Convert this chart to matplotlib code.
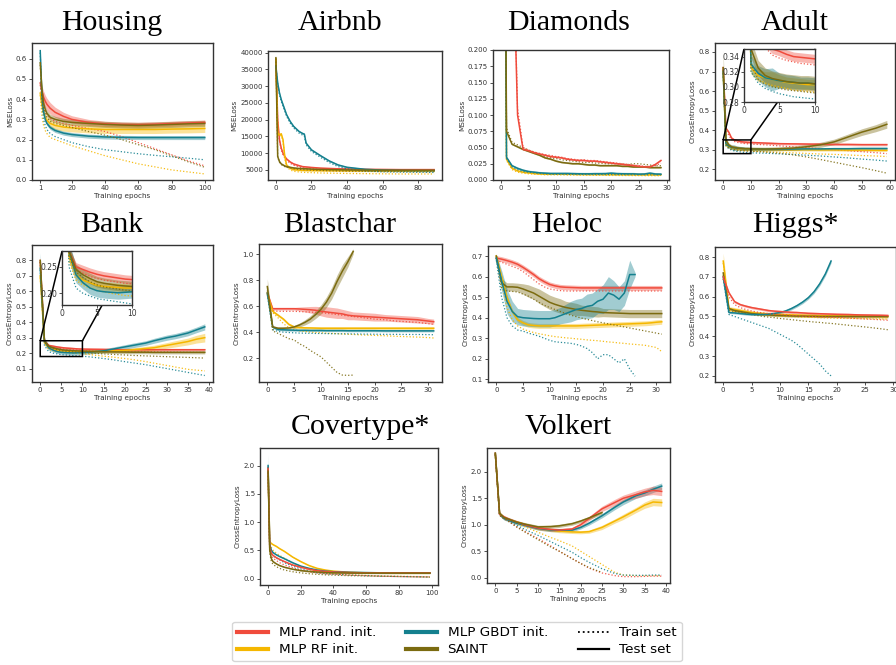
import numpy as np
import matplotlib
matplotlib.use("Agg")
import matplotlib.pyplot as plt
from matplotlib.lines import Line2D

RED, YEL, TEAL, OLIVE = "#F04B3C", "#F5B700", "#14808E", "#7B6B10"
W, H = 896, 665

# ---------------- data ----------------
housing_x = [1, 2, 3, 4, 5, 7, 10, 15, 20, 30, 40, 50, 60, 70, 80, 90, 100]
housing_red = [0.48, 0.44, 0.41, 0.39, 0.375, 0.355, 0.335, 0.315, 0.30, 0.285, 0.278, 0.275, 0.274, 0.276, 0.279, 0.282, 0.285]
housing_red_sd = [0.02, 0.025, 0.03, 0.03, 0.03, 0.028, 0.025, 0.02, 0.018, 0.015, 0.013, 0.012, 0.012, 0.012, 0.012, 0.012, 0.012]
housing_red_tr = [0.47, 0.40, 0.36, 0.34, 0.325, 0.305, 0.29, 0.28, 0.27, 0.255, 0.24, 0.215, 0.185, 0.155, 0.125, 0.095, 0.07]
housing_yel = [0.43, 0.37, 0.33, 0.31, 0.295, 0.28, 0.27, 0.262, 0.258, 0.253, 0.25, 0.25, 0.25, 0.25, 0.252, 0.253, 0.255]
housing_yel_sd = 0.02
housing_yel_tr = [0.42, 0.32, 0.27, 0.245, 0.23, 0.21, 0.20, 0.185, 0.17, 0.145, 0.12, 0.10, 0.08, 0.065, 0.05, 0.04, 0.03]
housing_teal = [0.64, 0.42, 0.34, 0.30, 0.28, 0.26, 0.245, 0.232, 0.225, 0.217, 0.213, 0.211, 0.21, 0.21, 0.21, 0.21, 0.21]
housing_teal_sd = 0.01
housing_teal_tr = [0.63, 0.38, 0.30, 0.27, 0.25, 0.23, 0.215, 0.20, 0.185, 0.165, 0.15, 0.14, 0.13, 0.122, 0.115, 0.108, 0.10]
housing_olive = [0.58, 0.45, 0.38, 0.35, 0.33, 0.31, 0.30, 0.29, 0.285, 0.28, 0.275, 0.272, 0.27, 0.272, 0.275, 0.278, 0.28]
housing_olive_sd = 0.015
housing_olive_tr = [0.57, 0.42, 0.36, 0.33, 0.31, 0.29, 0.28, 0.27, 0.26, 0.24, 0.222, 0.2, 0.175, 0.15, 0.12, 0.09, 0.063]

airbnb_x = [0, 1, 2, 3, 4, 5, 6, 8, 10, 13, 15, 16, 17, 20, 25, 30, 35, 40, 50, 60, 70, 80, 89]
airbnb_red = [38000, 20000, 14000, 11500, 10000, 9000, 8300, 7400, 6800, 6300, 6000, 5950, 5900, 5750, 5550, 5450, 5350, 5300, 5200, 5150, 5100, 5100, 5100]
airbnb_red_tr = [37800, 19500, 13500, 11000, 9500, 8600, 7900, 7000, 6400, 5900, 5600, 5550, 5500, 5350, 5150, 5050, 4950, 4900, 4850, 4800, 4800, 4800, 4800]
airbnb_yel = [38000, 16000, 15500, 15800, 14000, 9000, 6500, 5500, 5100, 4950, 4900, 4880, 4870, 4850, 4820, 4800, 4780, 4760, 4740, 4720, 4710, 4700, 4700]
airbnb_yel_tr = [37800, 15500, 15000, 15300, 13500, 8500, 6000, 5000, 4600, 4400, 4300, 4280, 4250, 4200, 4100, 4050, 4000, 3950, 3900, 3850, 3800, 3800, 3800]
airbnb_teal = [36000, 31000, 28000, 26000, 24500, 23000, 21500, 19500, 18000, 16500, 15900, 15700, 13000, 11000, 9300, 7700, 6500, 5800, 5200, 4950, 4850, 4800, 4800]
airbnb_teal_tr = [35800, 30500, 27500, 25500, 24000, 22500, 21000, 19000, 17500, 16000, 15400, 15200, 12500, 10500, 8800, 7200, 6000, 5300, 4700, 4450, 4350, 4300, 4250]
airbnb_olive = [38500, 9000, 7500, 6800, 6500, 6200, 6000, 5800, 5600, 5450, 5400, 5380, 5350, 5250, 5150, 5100, 5050, 5000, 4950, 4920, 4900, 4900, 4900]
airbnb_olive_tr = [38300, 8800, 7300, 6600, 6300, 6000, 5800, 5600, 5400, 5200, 5100, 5080, 5050, 4950, 4850, 4750, 4700, 4650, 4600, 4550, 4550, 4500, 4500]
airbnb_sd = 250

diamonds_x = list(range(30))
diamonds_red = [2.0, 1.5, 0.43, 0.1, 0.047, 0.045, 0.042, 0.04, 0.038, 0.036, 0.035, 0.034, 0.032, 0.031, 0.03, 0.03, 0.029, 0.029, 0.028, 0.027, 0.026, 0.025, 0.024, 0.023, 0.022, 0.021, 0.02, 0.02, 0.024, 0.03]
diamonds_red_tr = [2.0, 1.5, 0.45, 0.11, 0.05, 0.046, 0.043, 0.041, 0.039, 0.038, 0.036, 0.035, 0.033, 0.032, 0.031, 0.031, 0.03, 0.03, 0.029, 0.028, 0.027, 0.026, 0.025, 0.024, 0.023, 0.022, 0.021, 0.021, 0.022, 0.026]
diamonds_yel = [1.5, 0.032, 0.018, 0.014, 0.012, 0.011, 0.010, 0.0095, 0.009, 0.009, 0.009, 0.009, 0.0088, 0.0088, 0.0086, 0.0086, 0.0085, 0.0085, 0.0085, 0.0084, 0.0084, 0.0083, 0.0083, 0.0082, 0.0082, 0.0082, 0.0081, 0.0081, 0.008, 0.008]
diamonds_yel_tr = [1.5, 0.03, 0.016, 0.012, 0.0105, 0.0095, 0.009, 0.0085, 0.008, 0.008, 0.008, 0.0078, 0.0077, 0.0076, 0.0075, 0.0074, 0.0073, 0.0072, 0.0072, 0.0071, 0.007, 0.007, 0.0069, 0.0069, 0.0068, 0.0068, 0.0067, 0.0067, 0.0066, 0.0066]
diamonds_teal = [1.5, 0.035, 0.022, 0.018, 0.015, 0.013, 0.012, 0.011, 0.0105, 0.010, 0.010, 0.010, 0.010, 0.0098, 0.0096, 0.0095, 0.0095, 0.0097, 0.0097, 0.0098, 0.0105, 0.0098, 0.0096, 0.0095, 0.0095, 0.009, 0.0092, 0.0105, 0.0092, 0.009]
diamonds_teal_tr = [1.5, 0.033, 0.02, 0.016, 0.013, 0.012, 0.011, 0.010, 0.0095, 0.009, 0.009, 0.009, 0.0088, 0.0087, 0.0086, 0.0085, 0.0085, 0.0084, 0.0084, 0.0083, 0.0083, 0.0082, 0.0082, 0.0081, 0.0081, 0.008, 0.008, 0.008, 0.0079, 0.0079]
diamonds_olive = [1.5, 0.075, 0.055, 0.051, 0.047, 0.044, 0.041, 0.038, 0.034, 0.032, 0.029, 0.027, 0.026, 0.025, 0.025, 0.024, 0.023, 0.023, 0.022, 0.022, 0.022, 0.022, 0.021, 0.021, 0.02, 0.02, 0.02, 0.019, 0.019, 0.019]
diamonds_olive_tr = [1.5, 0.08, 0.058, 0.054, 0.05, 0.046, 0.043, 0.04, 0.036, 0.034, 0.033, 0.031, 0.03, 0.029, 0.028, 0.027, 0.027, 0.026, 0.026, 0.025, 0.025, 0.025, 0.024, 0.024, 0.025, 0.025, 0.024, 0.023, 0.022, 0.022]
diamonds_sd = 0.0015

adult_x = [0, 1, 2, 3, 4, 5, 6, 7, 8, 9, 10, 15, 20, 25, 30, 35, 40, 45, 50, 55, 59]
adult_red = [0.72, 0.41, 0.39, 0.36, 0.35, 0.347, 0.343, 0.34, 0.339, 0.338, 0.337, 0.334, 0.331, 0.33, 0.329, 0.328, 0.327, 0.327, 0.326, 0.326, 0.326]
adult_red_sd = 0.006
adult_red_tr = [0.71, 0.40, 0.375, 0.352, 0.342, 0.338, 0.335, 0.333, 0.331, 0.33, 0.329, 0.325, 0.32, 0.315, 0.31, 0.305, 0.3, 0.295, 0.29, 0.285, 0.28]
adult_yel = [0.70, 0.325, 0.315, 0.312, 0.31, 0.308, 0.306, 0.305, 0.304, 0.303, 0.303, 0.302, 0.301, 0.3, 0.3, 0.299, 0.299, 0.298, 0.298, 0.297, 0.297]
adult_yel_sd = [0.02, 0.008, 0.008, 0.008, 0.01, 0.008, 0.007, 0.007, 0.007, 0.007, 0.007, 0.006, 0.006, 0.006, 0.006, 0.006, 0.006, 0.006, 0.006, 0.006, 0.006]
adult_yel_tr = [0.69, 0.32, 0.31, 0.305, 0.302, 0.3, 0.298, 0.296, 0.295, 0.294, 0.293, 0.29, 0.287, 0.284, 0.281, 0.278, 0.276, 0.273, 0.27, 0.268, 0.265]
adult_teal = [0.70, 0.33, 0.318, 0.312, 0.31, 0.308, 0.307, 0.306, 0.305, 0.305, 0.304, 0.303, 0.303, 0.303, 0.304, 0.304, 0.305, 0.305, 0.306, 0.306, 0.306]
adult_teal_sd = [0.02, 0.012, 0.01, 0.012, 0.015, 0.01, 0.009, 0.009, 0.008, 0.008, 0.008, 0.007, 0.007, 0.007, 0.007, 0.007, 0.007, 0.007, 0.007, 0.007, 0.007]
adult_teal_tr = [0.69, 0.32, 0.305, 0.298, 0.294, 0.291, 0.289, 0.287, 0.286, 0.285, 0.284, 0.282, 0.279, 0.276, 0.272, 0.268, 0.263, 0.258, 0.252, 0.247, 0.242]
adult_olive = [0.72, 0.35, 0.325, 0.315, 0.311, 0.309, 0.307, 0.306, 0.305, 0.305, 0.304, 0.303, 0.305, 0.308, 0.315, 0.325, 0.34, 0.365, 0.39, 0.41, 0.43]
adult_olive_sd = [0.09, 0.012, 0.01, 0.01, 0.01, 0.01, 0.01, 0.01, 0.01, 0.01, 0.01, 0.01, 0.01, 0.011, 0.012, 0.013, 0.014, 0.015, 0.017, 0.018, 0.02]
adult_olive_tr = [0.71, 0.33, 0.31, 0.303, 0.3, 0.298, 0.296, 0.295, 0.294, 0.293, 0.292, 0.288, 0.282, 0.274, 0.263, 0.25, 0.236, 0.222, 0.208, 0.193, 0.18]

bank_x = [0, 1, 2, 3, 4, 5, 6, 7, 8, 9, 10, 12, 15, 17, 20, 22, 25, 27, 30, 32, 35, 37, 39]
bank_red = [0.80, 0.28, 0.25, 0.245, 0.24, 0.236, 0.233, 0.231, 0.229, 0.227, 0.226, 0.225, 0.224, 0.223, 0.222, 0.222, 0.222, 0.222, 0.222, 0.222, 0.222, 0.222, 0.222]
bank_red_sd = 0.008
bank_red_tr = [0.79, 0.27, 0.245, 0.238, 0.232, 0.228, 0.225, 0.223, 0.221, 0.219, 0.218, 0.216, 0.214, 0.213, 0.212, 0.211, 0.21, 0.209, 0.208, 0.207, 0.206, 0.205, 0.204]
bank_yel = [0.70, 0.27, 0.235, 0.225, 0.22, 0.215, 0.213, 0.212, 0.211, 0.21, 0.21, 0.21, 0.212, 0.214, 0.218, 0.222, 0.23, 0.235, 0.25, 0.26, 0.275, 0.29, 0.30]
bank_yel_sd = [0.02, 0.01, 0.008, 0.008, 0.008, 0.008, 0.008, 0.008, 0.008, 0.008, 0.008, 0.008, 0.009, 0.01, 0.011, 0.012, 0.014, 0.016, 0.018, 0.02, 0.022, 0.025, 0.028]
bank_yel_tr = [0.69, 0.26, 0.225, 0.215, 0.21, 0.205, 0.203, 0.2, 0.198, 0.196, 0.195, 0.19, 0.18, 0.175, 0.165, 0.158, 0.145, 0.135, 0.12, 0.11, 0.095, 0.09, 0.085]
bank_teal = [0.75, 0.28, 0.235, 0.22, 0.21, 0.205, 0.203, 0.202, 0.201, 0.202, 0.203, 0.207, 0.215, 0.225, 0.24, 0.25, 0.265, 0.28, 0.30, 0.31, 0.33, 0.35, 0.37]
bank_teal_sd = [0.10, 0.02, 0.015, 0.012, 0.012, 0.012, 0.012, 0.012, 0.012, 0.012, 0.012, 0.012, 0.012, 0.013, 0.014, 0.015, 0.015, 0.016, 0.017, 0.017, 0.018, 0.018, 0.02]
bank_teal_tr = [0.74, 0.25, 0.21, 0.2, 0.195, 0.19, 0.188, 0.186, 0.184, 0.182, 0.18, 0.175, 0.165, 0.158, 0.145, 0.137, 0.125, 0.115, 0.1, 0.09, 0.075, 0.065, 0.055]
bank_olive = [0.80, 0.28, 0.245, 0.235, 0.228, 0.222, 0.219, 0.217, 0.215, 0.214, 0.213, 0.211, 0.209, 0.208, 0.207, 0.206, 0.206, 0.205, 0.205, 0.205, 0.205, 0.205, 0.205]
bank_olive_sd = 0.01
bank_olive_tr = [0.79, 0.27, 0.24, 0.23, 0.222, 0.216, 0.212, 0.21, 0.208, 0.206, 0.205, 0.2, 0.195, 0.192, 0.188, 0.185, 0.182, 0.18, 0.177, 0.175, 0.172, 0.17, 0.168]

blast_x = [0, 1, 2, 3, 4, 5, 6, 7, 8, 9, 10, 11, 12, 13, 14, 15, 16, 18, 20, 22, 24, 26, 28, 30, 31]
blast_red = [0.70, 0.58, 0.58, 0.58, 0.58, 0.58, 0.578, 0.575, 0.572, 0.568, 0.56, 0.555, 0.55, 0.545, 0.54, 0.53, 0.525, 0.52, 0.515, 0.51, 0.505, 0.50, 0.495, 0.485, 0.48]
blast_red_sd = [0.02, 0.01, 0.01, 0.01, 0.01, 0.01, 0.015, 0.02, 0.025, 0.03, 0.035, 0.04, 0.04, 0.04, 0.035, 0.035, 0.03, 0.03, 0.03, 0.025, 0.025, 0.025, 0.025, 0.02, 0.02]
blast_red_tr = [0.68, 0.565, 0.56, 0.56, 0.56, 0.56, 0.558, 0.556, 0.554, 0.552, 0.55, 0.545, 0.54, 0.535, 0.53, 0.525, 0.52, 0.51, 0.50, 0.495, 0.485, 0.48, 0.475, 0.465, 0.46]
blast_yel = [0.70, 0.56, 0.53, 0.50, 0.46, 0.44, 0.435, 0.433, 0.432, 0.431, 0.43, 0.43, 0.43, 0.43, 0.43, 0.43, 0.43, 0.43, 0.43, 0.43, 0.43, 0.43, 0.43, 0.43, 0.43]
blast_yel_sd = 0.01
blast_yel_tr = [0.69, 0.55, 0.51, 0.465, 0.435, 0.42, 0.41, 0.405, 0.40, 0.397, 0.395, 0.392, 0.39, 0.388, 0.386, 0.384, 0.382, 0.378, 0.375, 0.372, 0.368, 0.365, 0.362, 0.358, 0.355]
blast_teal = [0.70, 0.44, 0.42, 0.418, 0.416, 0.415, 0.414, 0.414, 0.413, 0.413, 0.413, 0.412, 0.412, 0.412, 0.412, 0.411, 0.411, 0.411, 0.411, 0.41, 0.41, 0.41, 0.41, 0.41, 0.41]
blast_teal_sd = 0.008
blast_teal_tr = [0.69, 0.42, 0.405, 0.40, 0.397, 0.395, 0.393, 0.392, 0.391, 0.39, 0.39, 0.389, 0.388, 0.388, 0.387, 0.387, 0.386, 0.385, 0.384, 0.383, 0.383, 0.382, 0.382, 0.381, 0.38]
blast_olive = [0.75, 0.44, 0.43, 0.43, 0.432, 0.44, 0.455, 0.475, 0.50, 0.535, 0.575, 0.63, 0.70, 0.79, 0.87, 0.94, 1.02]
blast_olive_sd = [0.06, 0.01, 0.01, 0.01, 0.01, 0.012, 0.015, 0.02, 0.025, 0.03, 0.035, 0.04, 0.045, 0.05, 0.05, 0.04, 0.02]
blast_olive_tr = [0.72, 0.41, 0.39, 0.37, 0.35, 0.34, 0.31, 0.29, 0.26, 0.235, 0.21, 0.17, 0.13, 0.09, 0.07, 0.068, 0.07]

heloc_x = list(range(32))
heloc_red = [0.69, 0.685, 0.678, 0.67, 0.66, 0.645, 0.628, 0.61, 0.59, 0.575, 0.562, 0.555, 0.55, 0.548, 0.547, 0.546, 0.545, 0.545, 0.545, 0.545, 0.545, 0.545, 0.545, 0.545, 0.545, 0.545, 0.545, 0.545, 0.545, 0.545, 0.545, 0.545]
heloc_red_sd = 0.012
heloc_red_tr = [0.68, 0.67, 0.66, 0.65, 0.64, 0.625, 0.605, 0.585, 0.565, 0.55, 0.54, 0.535, 0.532, 0.53, 0.53, 0.53, 0.53, 0.53, 0.53, 0.53, 0.53, 0.53, 0.53, 0.53, 0.53, 0.53, 0.53, 0.53, 0.53, 0.53, 0.53, 0.53]
heloc_yel = [0.70, 0.60, 0.50, 0.43, 0.39, 0.375, 0.365, 0.362, 0.36, 0.36, 0.36, 0.36, 0.36, 0.36, 0.36, 0.36, 0.361, 0.362, 0.363, 0.364, 0.365, 0.366, 0.367, 0.368, 0.369, 0.37, 0.371, 0.372, 0.373, 0.375, 0.378, 0.38]
heloc_yel_sd = 0.012
heloc_yel_tr = [0.69, 0.57, 0.45, 0.39, 0.36, 0.345, 0.335, 0.328, 0.322, 0.317, 0.312, 0.308, 0.305, 0.302, 0.30, 0.297, 0.295, 0.292, 0.29, 0.288, 0.285, 0.282, 0.28, 0.277, 0.275, 0.272, 0.27, 0.268, 0.265, 0.26, 0.255, 0.235]
heloc_teal = [0.69, 0.58, 0.48, 0.43, 0.405, 0.40, 0.398, 0.396, 0.395, 0.395, 0.395, 0.40, 0.41, 0.42, 0.43, 0.44, 0.445, 0.455, 0.46, 0.48, 0.49, 0.52, 0.51, 0.49, 0.52, 0.61, 0.61]
heloc_teal_sd = [0.02, 0.05, 0.06, 0.05, 0.04, 0.04, 0.04, 0.04, 0.04, 0.04, 0.04, 0.04, 0.04, 0.045, 0.05, 0.05, 0.05, 0.06, 0.06, 0.06, 0.07, 0.08, 0.07, 0.06, 0.06, 0.07, 0.01]
heloc_teal_tr = [0.68, 0.50, 0.40, 0.36, 0.34, 0.335, 0.325, 0.318, 0.31, 0.30, 0.29, 0.283, 0.28, 0.278, 0.275, 0.27, 0.262, 0.25, 0.23, 0.20, 0.22, 0.22, 0.20, 0.18, 0.20, 0.15, 0.115]
heloc_olive = [0.70, 0.57, 0.55, 0.55, 0.548, 0.54, 0.53, 0.52, 0.505, 0.49, 0.475, 0.465, 0.457, 0.45, 0.445, 0.44, 0.436, 0.433, 0.43, 0.428, 0.425, 0.424, 0.423, 0.422, 0.421, 0.42, 0.42, 0.42, 0.42, 0.42, 0.42, 0.42]
heloc_olive_sd = [0.01, 0.02, 0.02, 0.02, 0.02, 0.025, 0.03, 0.03, 0.035, 0.035, 0.035, 0.035, 0.035, 0.03, 0.03, 0.03, 0.025, 0.025, 0.025, 0.025, 0.02, 0.02, 0.02, 0.02, 0.02, 0.02, 0.02, 0.02, 0.02, 0.02, 0.02, 0.02]
heloc_olive_tr = [0.69, 0.54, 0.53, 0.528, 0.525, 0.515, 0.505, 0.49, 0.475, 0.46, 0.45, 0.44, 0.43, 0.42, 0.412, 0.405, 0.398, 0.392, 0.386, 0.38, 0.375, 0.37, 0.365, 0.36, 0.355, 0.35, 0.345, 0.34, 0.335, 0.33, 0.325, 0.32]

higgs_x = [0, 1, 2, 3, 4, 5, 6, 7, 8, 9, 10, 11, 12, 13, 14, 15, 16, 17, 18, 19, 20, 22, 24, 26, 28, 29]
higgs_red = [0.70, 0.62, 0.575, 0.56, 0.552, 0.545, 0.54, 0.535, 0.53, 0.527, 0.525, 0.523, 0.521, 0.52, 0.518, 0.516, 0.515, 0.514, 0.513, 0.512, 0.511, 0.51, 0.508, 0.507, 0.506, 0.505]
higgs_red_sd = 0.006
higgs_red_tr = [0.69, 0.60, 0.56, 0.545, 0.535, 0.528, 0.522, 0.518, 0.515, 0.512, 0.51, 0.508, 0.506, 0.504, 0.502, 0.50, 0.499, 0.498, 0.497, 0.496, 0.495, 0.492, 0.489, 0.486, 0.483, 0.481]
higgs_yel = [0.78, 0.54, 0.535, 0.53, 0.525, 0.52, 0.517, 0.515, 0.513, 0.511, 0.51, 0.509, 0.508, 0.507, 0.506, 0.505, 0.505, 0.504, 0.504, 0.503, 0.503, 0.502, 0.502, 0.501, 0.50, 0.50]
higgs_yel_sd = [0.04, 0.01, 0.01, 0.01, 0.01, 0.009, 0.009, 0.008, 0.008, 0.008, 0.008, 0.008, 0.008, 0.008, 0.008, 0.008, 0.008, 0.008, 0.008, 0.008, 0.008, 0.008, 0.008, 0.008, 0.008, 0.008]
higgs_yel_tr = [0.77, 0.53, 0.525, 0.52, 0.515, 0.512, 0.51, 0.508, 0.506, 0.504, 0.502, 0.50, 0.499, 0.498, 0.497, 0.496, 0.495, 0.494, 0.493, 0.492, 0.491, 0.49, 0.489, 0.488, 0.487, 0.486]
higgs_teal = [0.70, 0.52, 0.518, 0.515, 0.512, 0.51, 0.51, 0.51, 0.512, 0.515, 0.52, 0.528, 0.54, 0.555, 0.573, 0.595, 0.625, 0.665, 0.715, 0.78]
higgs_teal_sd = [0.01, 0.005, 0.005, 0.005, 0.005, 0.005, 0.005, 0.005, 0.005, 0.005, 0.006, 0.006, 0.007, 0.007, 0.008, 0.008, 0.009, 0.01, 0.01, 0.01]
higgs_teal_tr = [0.69, 0.51, 0.50, 0.49, 0.48, 0.47, 0.46, 0.45, 0.44, 0.425, 0.41, 0.395, 0.38, 0.36, 0.335, 0.31, 0.285, 0.26, 0.225, 0.20]
higgs_olive = [0.72, 0.54, 0.53, 0.525, 0.52, 0.515, 0.512, 0.51, 0.508, 0.506, 0.505, 0.504, 0.503, 0.502, 0.502, 0.501, 0.501, 0.50, 0.50, 0.50, 0.50, 0.50, 0.50, 0.50, 0.50, 0.50]
higgs_olive_sd = 0.006
higgs_olive_tr = [0.71, 0.53, 0.525, 0.52, 0.515, 0.51, 0.505, 0.50, 0.497, 0.494, 0.49, 0.487, 0.484, 0.481, 0.478, 0.475, 0.472, 0.47, 0.467, 0.465, 0.462, 0.456, 0.45, 0.444, 0.437, 0.433]

cover_x = [0, 1, 2, 3, 5, 7, 10, 15, 20, 25, 30, 35, 40, 50, 60, 70, 80, 90, 99]
cover_red = [1.95, 0.55, 0.45, 0.41, 0.37, 0.34, 0.30, 0.24, 0.20, 0.165, 0.14, 0.125, 0.115, 0.105, 0.10, 0.10, 0.10, 0.10, 0.10]
cover_red_tr = [1.93, 0.50, 0.40, 0.36, 0.32, 0.28, 0.24, 0.19, 0.15, 0.12, 0.10, 0.085, 0.075, 0.06, 0.05, 0.04, 0.035, 0.03, 0.028]
cover_yel = [1.95, 0.65, 0.62, 0.60, 0.57, 0.53, 0.48, 0.38, 0.30, 0.23, 0.18, 0.15, 0.13, 0.11, 0.10, 0.097, 0.095, 0.095, 0.095]
cover_yel_tr = [1.93, 0.60, 0.55, 0.50, 0.45, 0.41, 0.36, 0.28, 0.21, 0.16, 0.12, 0.10, 0.085, 0.065, 0.055, 0.045, 0.04, 0.035, 0.03]
cover_teal = [2.0, 0.60, 0.50, 0.46, 0.42, 0.39, 0.35, 0.28, 0.22, 0.18, 0.15, 0.13, 0.12, 0.11, 0.105, 0.10, 0.10, 0.10, 0.10]
cover_teal_sd = [0.2, 0.02, 0.015, 0.012, 0.01, 0.01, 0.01, 0.01, 0.01, 0.01, 0.01, 0.01, 0.01, 0.01, 0.01, 0.01, 0.01, 0.01, 0.01]
cover_teal_tr = [1.98, 0.55, 0.45, 0.40, 0.36, 0.33, 0.28, 0.22, 0.17, 0.13, 0.10, 0.085, 0.075, 0.06, 0.05, 0.04, 0.035, 0.03, 0.025]
cover_olive = [1.90, 0.50, 0.35, 0.30, 0.26, 0.23, 0.20, 0.165, 0.14, 0.125, 0.115, 0.105, 0.10, 0.097, 0.095, 0.095, 0.095, 0.095, 0.095]
cover_olive_tr = [1.88, 0.45, 0.30, 0.25, 0.21, 0.18, 0.15, 0.12, 0.10, 0.085, 0.075, 0.065, 0.06, 0.05, 0.045, 0.04, 0.035, 0.03, 0.025]
cover_sd = 0.01

volk_x = [0, 1, 2, 3, 5, 7, 10, 13, 15, 18, 20, 22, 25, 28, 30, 33, 35, 37, 39]
volk_red = [2.35, 1.20, 1.15, 1.11, 1.05, 1.0, 0.94, 0.91, 0.90, 0.92, 1.0, 1.12, 1.30, 1.42, 1.50, 1.57, 1.62, 1.65, 1.63]
volk_red_sd = [0.02, 0.03, 0.03, 0.03, 0.03, 0.03, 0.03, 0.03, 0.03, 0.03, 0.04, 0.04, 0.05, 0.06, 0.06, 0.07, 0.07, 0.08, 0.08]
volk_red_tr = [2.33, 1.18, 1.12, 1.07, 0.96, 0.87, 0.74, 0.60, 0.50, 0.36, 0.27, 0.18, 0.09, 0.04, 0.02, 0.02, 0.025, 0.03, 0.03]
volk_yel = [2.35, 1.20, 1.13, 1.10, 1.05, 1.0, 0.93, 0.90, 0.88, 0.865, 0.86, 0.87, 0.95, 1.07, 1.15, 1.28, 1.37, 1.43, 1.42]
volk_yel_sd = [0.02, 0.03, 0.03, 0.03, 0.03, 0.03, 0.03, 0.03, 0.03, 0.03, 0.03, 0.03, 0.04, 0.04, 0.05, 0.05, 0.06, 0.07, 0.07]
volk_yel_tr = [2.33, 1.19, 1.14, 1.10, 1.02, 0.96, 0.86, 0.76, 0.70, 0.60, 0.50, 0.40, 0.25, 0.10, 0.05, 0.04, 0.04, 0.04, 0.04]
volk_teal = [2.35, 1.20, 1.12, 1.09, 1.03, 0.99, 0.93, 0.90, 0.90, 0.90, 0.95, 1.03, 1.17, 1.33, 1.43, 1.55, 1.60, 1.67, 1.73]
volk_teal_sd = [0.02, 0.03, 0.03, 0.03, 0.03, 0.03, 0.03, 0.03, 0.03, 0.03, 0.03, 0.035, 0.04, 0.045, 0.05, 0.05, 0.055, 0.06, 0.06]
volk_teal_tr = [2.33, 1.18, 1.12, 1.08, 0.99, 0.91, 0.80, 0.68, 0.60, 0.48, 0.38, 0.29, 0.17, 0.08, 0.05, 0.045, 0.045, 0.05, 0.05]
volk_olive = [2.35, 1.22, 1.14, 1.11, 1.05, 1.01, 0.96, 0.965, 0.98, 1.02, 1.07, 1.13, 1.23]
volk_olive_sd = 0.03
volk_olive_tr = [2.33, 1.18, 1.12, 1.07, 0.96, 0.86, 0.72, 0.58, 0.50, 0.36, 0.27, 0.19, 0.10]

# ---------------- layout helpers ----------------
plt.rcParams["font.family"] = ["DejaVu Sans"]
fig = plt.figure(figsize=(W / 100, H / 100), dpi=100)


def px_axes(x0, y0, x1, y1):
    return fig.add_axes([x0 / W, 1 - y1 / H, (x1 - x0) / W, (y1 - y0) / H])


def style(ax, fs=5.0):
    for s in ax.spines.values():
        s.set_linewidth(1.0)
        s.set_color("#333333")
    ax.tick_params(labelsize=fs, length=2.2, width=0.6, pad=1.5, colors="#333333")


def draw(ax, x, models):
    for color, test, sd, train in models:
        xt = np.asarray(x[: len(test)], float)
        m = np.asarray(test, float)
        s = np.broadcast_to(np.asarray(sd, float), m.shape)
        ax.fill_between(xt, m - s, m + s, color=color, alpha=0.4, lw=0)
        ax.plot(xt, m, color=color, lw=1.1)
        xr = np.asarray(x[: len(train)], float)
        ax.plot(xr, train, color=color, lw=0.9, ls=(0, (1, 1.6)), alpha=0.9)


panels = [
    dict(title="Housing", ylabel="MSELoss", box=(32, 43, 213, 180), tpos=(112, 30), x=housing_x,
         models=[(RED, housing_red, housing_red_sd, housing_red_tr),
                 (YEL, housing_yel, housing_yel_sd, housing_yel_tr),
                 (TEAL, housing_teal, housing_teal_sd, housing_teal_tr),
                 (OLIVE, housing_olive, housing_olive_sd, housing_olive_tr)],
         xlim=(-3.95, 104.95), ylim=(0.0, 0.678), xticks=[1, 20, 40, 60, 80, 100],
         yticks=[0.0, 0.1, 0.2, 0.3, 0.4, 0.5, 0.6]),
    dict(title="Airbnb", ylabel="MSELoss", box=(268, 51, 442, 180), tpos=(340, 30), x=airbnb_x,
         models=[(RED, airbnb_red, airbnb_sd, airbnb_red_tr),
                 (YEL, airbnb_yel, airbnb_sd, airbnb_yel_tr),
                 (TEAL, airbnb_teal, airbnb_sd, airbnb_teal_tr),
                 (OLIVE, airbnb_olive, airbnb_sd, airbnb_olive_tr)],
         xlim=(-4.45, 93.45), ylim=(2000, 40500), xticks=[0, 20, 40, 60, 80],
         yticks=[5000, 10000, 15000, 20000, 25000, 30000, 35000, 40000]),
    dict(title="Diamonds", ylabel="MSELoss", box=(493, 50, 669, 180), tpos=(569, 30), x=diamonds_x,
         models=[(YEL, diamonds_yel, diamonds_sd, diamonds_yel_tr),
                 (TEAL, diamonds_teal, diamonds_sd, diamonds_teal_tr),
                 (OLIVE, diamonds_olive, diamonds_sd, diamonds_olive_tr),
                 (RED, diamonds_red, diamonds_sd, diamonds_red_tr)],
         xlim=(-1.45, 30.45), ylim=(0.0, 0.2), xticks=[0, 5, 10, 15, 20, 25, 30],
         yticks=[0.0, 0.025, 0.05, 0.075, 0.1, 0.125, 0.15, 0.175, 0.2], yfmt="%.3f"),
    dict(title="Adult", ylabel="CrossEntropyLoss", box=(715, 43, 895, 180), tpos=(795, 30), x=adult_x,
         models=[(RED, adult_red, adult_red_sd, adult_red_tr),
                 (YEL, adult_yel, adult_yel_sd, adult_yel_tr),
                 (TEAL, adult_teal, adult_teal_sd, adult_teal_tr),
                 (OLIVE, adult_olive, adult_olive_sd, adult_olive_tr)],
         xlim=(-2.95, 61.95), ylim=(0.145, 0.846), xticks=[0, 10, 20, 30, 40, 50, 60],
         yticks=[0.2, 0.3, 0.4, 0.5, 0.6, 0.7, 0.8],
         inset=dict(bounds=(0.161, 0.569, 0.394, 0.387), xlim=(0, 10), ylim=(0.28, 0.35),
                    xticks=[0, 5, 10], yticks=[0.28, 0.30, 0.32, 0.34])),
    dict(title="Bank", ylabel="CrossEntropyLoss", box=(32, 245, 213, 382), tpos=(112, 232), x=bank_x,
         models=[(RED, bank_red, bank_red_sd, bank_red_tr),
                 (YEL, bank_yel, bank_yel_sd, bank_yel_tr),
                 (TEAL, bank_teal, bank_teal_sd, bank_teal_tr),
                 (OLIVE, bank_olive, bank_olive_sd, bank_olive_tr)],
         xlim=(-1.95, 40.95), ylim=(0.013, 0.9), xticks=[0, 5, 10, 15, 20, 25, 30, 35, 40],
         yticks=[0.1, 0.2, 0.3, 0.4, 0.5, 0.6, 0.7, 0.8],
         inset=dict(bounds=(0.166, 0.562, 0.387, 0.394), xlim=(0, 10), ylim=(0.178, 0.28),
                    xticks=[0, 5, 10], yticks=[0.20, 0.25])),
    dict(title="Blastchar", ylabel="CrossEntropyLoss", box=(259, 244, 442, 382), tpos=(340, 232), x=blast_x,
         models=[(RED, blast_red, blast_red_sd, blast_red_tr),
                 (YEL, blast_yel, blast_yel_sd, blast_yel_tr),
                 (TEAL, blast_teal, blast_teal_sd, blast_teal_tr),
                 (OLIVE, blast_olive, blast_olive_sd, blast_olive_tr)],
         xlim=(-1.55, 32.55), ylim=(0.017, 1.077), xticks=[0, 5, 10, 15, 20, 25, 30],
         yticks=[0.2, 0.4, 0.6, 0.8, 1.0]),
    dict(title="Heloc", ylabel="CrossEntropyLoss", box=(488, 246, 670, 382), tpos=(567, 232), x=heloc_x,
         models=[(RED, heloc_red, heloc_red_sd, heloc_red_tr),
                 (YEL, heloc_yel, heloc_yel_sd, heloc_yel_tr),
                 (OLIVE, heloc_olive, heloc_olive_sd, heloc_olive_tr),
                 (TEAL, heloc_teal, heloc_teal_sd, heloc_teal_tr)],
         xlim=(-1.55, 32.55), ylim=(0.087, 0.749), xticks=[0, 5, 10, 15, 20, 25, 30],
         yticks=[0.1, 0.2, 0.3, 0.4, 0.5, 0.6, 0.7]),
    dict(title="Higgs*", ylabel="CrossEntropyLoss", box=(715, 247, 896, 382), tpos=(795, 232), x=higgs_x,
         models=[(YEL, higgs_yel, higgs_yel_sd, higgs_yel_tr),
                 (OLIVE, higgs_olive, higgs_olive_sd, higgs_olive_tr),
                 (TEAL, higgs_teal, higgs_teal_sd, higgs_teal_tr),
                 (RED, higgs_red, higgs_red_sd, higgs_red_tr)],
         xlim=(-1.45, 30.45), ylim=(0.169, 0.851), xticks=[0, 5, 10, 15, 20, 25, 30],
         yticks=[0.2, 0.3, 0.4, 0.5, 0.6, 0.7, 0.8]),
    dict(title="Covertype*", ylabel="CrossEntropyLoss", box=(260, 448, 438, 585), tpos=(360, 434), x=cover_x,
         models=[(YEL, cover_yel, cover_sd, cover_yel_tr),
                 (TEAL, cover_teal, cover_teal_sd, cover_teal_tr),
                 (RED, cover_red, cover_sd, cover_red_tr),
                 (OLIVE, cover_olive, cover_sd, cover_olive_tr)],
         xlim=(-4.95, 103.95), ylim=(-0.115, 2.31), xticks=[0, 20, 40, 60, 80, 100],
         yticks=[0.0, 0.5, 1.0, 1.5, 2.0]),
    dict(title="Volkert", ylabel="CrossEntropyLoss", box=(487, 448, 670, 583), tpos=(568, 434), x=volk_x,
         models=[(YEL, volk_yel, volk_yel_sd, volk_yel_tr),
                 (TEAL, volk_teal, volk_teal_sd, volk_teal_tr),
                 (RED, volk_red, volk_red_sd, volk_red_tr),
                 (OLIVE, volk_olive, volk_olive_sd, volk_olive_tr)],
         xlim=(-1.95, 40.95), ylim=(-0.1, 2.45), xticks=[0, 5, 10, 15, 20, 25, 30, 35, 40],
         yticks=[0.0, 0.5, 1.0, 1.5, 2.0]),
]

for p in panels:
    ax = px_axes(*p["box"])
    draw(ax, p["x"], p["models"])
    ax.set_xlim(*p["xlim"])
    ax.set_ylim(*p["ylim"])
    ax.set_xticks(p["xticks"])
    ax.set_yticks(p["yticks"])
    if "yfmt" in p:
        ax.yaxis.set_major_formatter(matplotlib.ticker.FormatStrFormatter(p["yfmt"]))
    style(ax)
    ax.set_xlabel("Training epochs", fontsize=5.2, labelpad=1, color="#333333")
    ax.set_ylabel(p["ylabel"], fontsize=5.2, labelpad=2, color="#333333")
    fig.text(p["tpos"][0] / W, 1 - p["tpos"][1] / H, p["title"], ha="center", va="baseline",
             fontsize=21.5, family=["Liberation Serif", "DejaVu Serif"])
    if "inset" in p:
        ins = p["inset"]
        axins = ax.inset_axes(list(ins["bounds"]))
        draw(axins, p["x"], p["models"])
        axins.set_xlim(*ins["xlim"])
        axins.set_ylim(*ins["ylim"])
        axins.set_xticks(ins["xticks"])
        axins.set_yticks(ins["yticks"])
        axins.yaxis.set_major_formatter(matplotlib.ticker.FormatStrFormatter("%.2f"))
        style(axins, fs=5.5)
        axins.tick_params(pad=1)
        ind = ax.indicate_inset_zoom(axins, edgecolor="black", alpha=1.0, linewidth=1.1)

handles = [
    Line2D([], [], color=RED, lw=3),
    Line2D([], [], color=YEL, lw=3),
    Line2D([], [], color=TEAL, lw=3),
    Line2D([], [], color=OLIVE, lw=3),
    Line2D([], [], color="black", lw=1.3, ls=":"),
    Line2D([], [], color="black", lw=1.6),
]
labels = ["MLP rand. init.", "MLP RF init.", "MLP GBDT init.", "SAINT", "Train set", "Test set"]
fig.legend(handles, labels, loc="upper center", bbox_to_anchor=(457 / W, 1 - 615 / H), ncol=3,
           fontsize=9.7, handlelength=2.3, columnspacing=2.2, borderpad=0.35,
           labelspacing=0.3, frameon=True)

fig.savefig("out.png", dpi=100)
